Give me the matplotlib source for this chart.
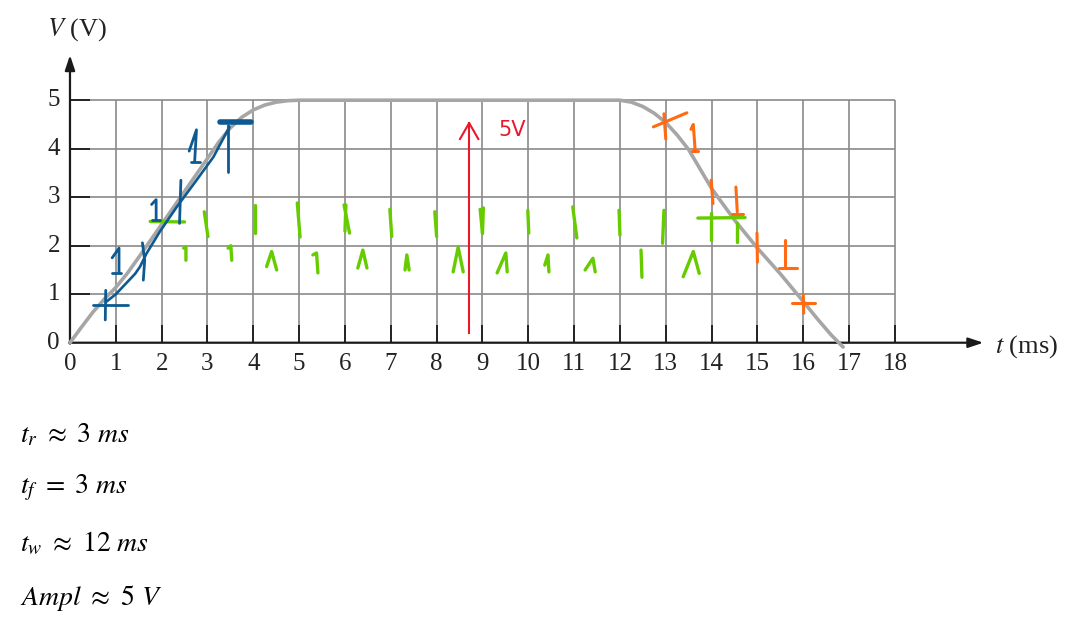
import matplotlib
matplotlib.use("Agg")
import matplotlib.pyplot as plt

plt.rcParams['mathtext.fontset'] = 'stix'
plt.rcParams['font.family'] = ['Liberation Serif', 'DejaVu Serif']

# axis ticks
t_ticks = list(range(0, 19))
v_ticks = list(range(0, 6))

# the pulse (grey curve)
pulse_t = [0.0, 0.25, 0.5, 0.75, 1.0, 1.25, 1.5, 2.0, 2.5, 3.0, 3.25, 3.5, 3.75, 4.0, 4.25,
           4.5, 4.75, 5.0, 5.2,
           11.8, 12.0, 12.25, 12.5, 12.75, 13.0, 13.25, 13.5, 14.0, 14.5, 15.0, 15.5, 16.0,
           16.3, 16.6, 16.87]
pulse_v = [0.0, 0.32, 0.63, 0.9, 1.14, 1.43, 1.76, 2.44, 3.12, 3.8, 4.14, 4.43, 4.65, 4.8, 4.9,
           4.96, 4.99, 5.0, 5.0,
           5.0, 5.0, 4.96, 4.87, 4.73, 4.54, 4.28, 3.98, 3.18, 2.53, 1.95, 1.42, 0.85,
           0.5, 0.17, -0.09]

# hand drawn blue trace over the rising edge
blue_t = [0.8, 1.0, 1.16, 1.3, 1.42, 1.53, 1.67, 1.96, 2.33, 2.76, 3.13, 3.48]
blue_v = [0.85, 1.0, 1.16, 1.3, 1.42, 1.57, 1.84, 2.29, 2.8, 3.35, 3.83, 4.45]

# hand drawn marks, each one a list of (t, V) points
blue_marks = [
    [(0.51, 0.78), (1.27, 0.78)], [(0.78, 1.08), (0.77, 0.47)],
    [(0.92, 1.75), (1.07, 1.95), (1.07, 1.44)], [(0.92, 1.44), (1.12, 1.44)],
    [(1.58, 2.06), (1.63, 1.7), (1.6, 1.29)],
    [(1.78, 2.85), (1.88, 2.95), (1.88, 2.53)], [(1.78, 2.53), (1.96, 2.53)],
    [(2.42, 3.35), (2.39, 2.46)],
    [(2.6, 3.95), (2.76, 4.39), (2.72, 3.73)], [(2.64, 3.73), (2.84, 3.73)],
    [(3.45, 4.49), (3.45, 3.53)],
]
blue_bar = [(3.27, 4.56), (3.96, 4.56)]

green_marks = [
    [(1.75, 2.5), (2.5, 2.49)],
    [(2.93, 2.7), (3.01, 2.19)], [(4.03, 2.84), (4.03, 2.26)], [(4.96, 2.88), (5.02, 2.18)],
    [(5.98, 2.84), (6.1, 2.26)], [(6.02, 2.84), (6.0, 2.3)], [(6.98, 2.75), (7.02, 2.19)],
    [(7.96, 2.7), (8.0, 2.19)], [(8.95, 2.75), (9.0, 2.26)], [(9.02, 2.78), (9.0, 2.25)],
    [(9.99, 2.73), (10.01, 2.26)], [(10.97, 2.8), (11.06, 2.16)], [(11.98, 2.73), (12.0, 2.22)],
    [(12.96, 2.73), (12.93, 2.05)],
    [(13.7, 2.57), (14.73, 2.58)], [(13.99, 2.67), (13.99, 2.12)], [(14.56, 2.47), (14.56, 2.08)],
    [(2.48, 1.95), (2.53, 1.97), (2.53, 1.7)],
    [(3.45, 1.95), (3.51, 2.0), (3.53, 1.7)],
    [(4.29, 1.57), (4.4, 1.88), (4.51, 1.5)],
    [(5.3, 1.81), (5.38, 1.85), (5.41, 1.44)],
    [(6.28, 1.54), (6.39, 1.91), (6.48, 1.54)],
    [(7.31, 1.5), (7.35, 1.81), (7.4, 1.5)],
    [(8.36, 1.46), (8.47, 1.97), (8.58, 1.46)],
    [(9.32, 1.44), (9.51, 1.85), (9.54, 1.46)],
    [(10.36, 1.6), (10.43, 1.81), (10.45, 1.46)],
    [(11.24, 1.5), (11.41, 1.74), (11.46, 1.46)],
    [(12.46, 1.91), (12.48, 1.35)],
    [(13.38, 1.36), (13.6, 1.88), (13.73, 1.43)],
]

orange_marks = [
    [(12.73, 4.45), (13.46, 4.74)], [(12.96, 4.72), (13.0, 4.2)],
    [(13.55, 4.4), (13.6, 4.5), (13.64, 3.98)], [(13.58, 3.96), (13.7, 3.96)],
    [(13.99, 3.35), (14.03, 2.87)],
    [(14.53, 3.21), (14.56, 2.7)], [(14.44, 2.65), (14.69, 2.65)],
    [(14.99, 2.26), (15.0, 1.66)],
    [(15.6, 2.12), (15.6, 1.56)], [(15.47, 1.55), (15.86, 1.55)],
    [(15.75, 0.81), (16.26, 0.81)], [(16.0, 0.98), (16.01, 0.61)],
]

red_arrow_t = 8.71
red_arrow_v = (0.2, 4.53)

fig = plt.figure(figsize=(10.81, 6.25), dpi=100)
ax = fig.add_axes([0, 0, 1, 1])
ax.set_xlim(-1.527, 22.06)
ax.set_ylim(-5.82, 7.066)
ax.axis('off')

grid_c = '#8a8a8a'
ax.vlines(t_ticks[1:], 0, 5, color=grid_c, lw=1.2, zorder=1)
ax.hlines(v_ticks[1:], 0, 18, color=grid_c, lw=1.2, zorder=1)
# small black ticks
ax.vlines(t_ticks[1:], 0, 0.36, color='#1a1a1a', lw=1.3, zorder=2)
ax.hlines(v_ticks[1:], 0, 0.43, color='#1a1a1a', lw=1.3, zorder=2)

# axes with arrows
ax.annotate('', xy=(19.93, 0), xytext=(-0.02, 0),
            arrowprops=dict(arrowstyle='-|>,head_length=0.9,head_width=0.3', color='#1a1a1a',
                            lw=1.6, shrinkA=0, shrinkB=0), zorder=3)
ax.annotate('', xy=(0, 5.93), xytext=(0, -0.02),
            arrowprops=dict(arrowstyle='-|>,head_length=0.9,head_width=0.3', color='#1a1a1a',
                            lw=1.6, shrinkA=0, shrinkB=0), zorder=3)

for t in t_ticks:
    ax.text(t, -0.44, str(t), ha='center', va='center', fontsize=18, color='#222222')
for v in v_ticks:
    ax.text(-0.22, v, str(v), ha='right', va='center', fontsize=18, color='#222222')

ax.text(0.15, 6.45, r'$V$ (V)', ha='center', va='center', fontsize=19, color='#222222')
ax.text(20.18, -0.08, r'$t$ (ms)', ha='left', va='center', fontsize=19, color='#222222')

# pulse
ax.plot(pulse_t, pulse_v, color='#a6a6a6', lw=2.6, solid_capstyle='round',
        solid_joinstyle='round', zorder=4)

# annotations
ax.plot(blue_t, blue_v, color='#0d5a92', lw=1.9, solid_capstyle='round',
        solid_joinstyle='round', zorder=6)
for m in blue_marks:
    xs, ys = zip(*m)
    ax.plot(xs, ys, color='#0d5a92', lw=2.0, solid_capstyle='round', zorder=6)
xs, ys = zip(*blue_bar)
ax.plot(xs, ys, color='#0d5a92', lw=4.0, solid_capstyle='round', zorder=6)

for m in green_marks:
    xs, ys = zip(*m)
    ax.plot(xs, ys, color='#66cc00', lw=2.4, solid_capstyle='round', zorder=5)

for m in orange_marks:
    xs, ys = zip(*m)
    ax.plot(xs, ys, color='#ff6a13', lw=2.2, solid_capstyle='round', zorder=6)

ax.plot([red_arrow_t, red_arrow_t], red_arrow_v, color='#e8192c', lw=1.5, zorder=6)
ax.plot([red_arrow_t - 0.2, red_arrow_t, red_arrow_t + 0.2],
        [red_arrow_v[1] - 0.33, red_arrow_v[1], red_arrow_v[1] - 0.33],
        color='#e8192c', lw=1.5, zorder=6)
ax.text(9.35, 4.38, '5V', color='#e8192c', fontsize=15, family='DejaVu Sans',
        ha='left', va='center')

# results
results = [r'$t_r\ \approx\ 3\ ms$', r'$t_f\ =\ 3\ ms$', r'$t_w\ \approx\ 12\ ms$',
           r'$Ampl\ \approx\ 5\ V$']
results_y = [-2.05, -3.11, -4.31, -5.41]
for s, y in zip(results, results_y):
    ax.text(-1.09, y, s, ha='left', va='baseline', fontsize=20, color='black')

fig.savefig('out.png', dpi=100)
